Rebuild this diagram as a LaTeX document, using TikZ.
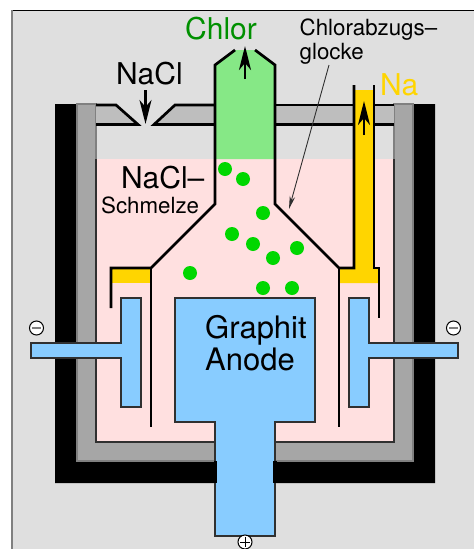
\documentclass[tikz,border=0pt]{standalone}
\usepackage{fontspec}
\setmainfont{TeX Gyre Heros}
\usetikzlibrary{arrows.meta}
\definecolor{bgc}{HTML}{DFDFDF}
\definecolor{wallc}{HTML}{A6A6A6}
\definecolor{lidc}{HTML}{BEBEBE}
\definecolor{meltc}{HTML}{FFE0E0}
\definecolor{gasc}{HTML}{86E886}
\definecolor{sodc}{HTML}{FFD500}
\definecolor{metalc}{HTML}{88CCFF}
\definecolor{dotc}{HTML}{00D700}
\definecolor{chlorc}{HTML}{009000}
\definecolor{edgec}{HTML}{303030}
\tikzset{
  x=1pt,y=-1pt,
  thick line/.style={draw=black,line width=2.7pt,line cap=butt,line join=miter},
  thin edge/.style={draw=edgec,line width=1.1pt},
  bubble/.style={circle,fill=dotc,minimum size=14pt,inner sep=0pt},
  big/.style={inner sep=0pt,anchor=base west,font=\fontsize{30}{30}\selectfont},
  small/.style={inner sep=0pt,anchor=base west,font=\fontsize{22.3}{24}\selectfont},
  flow/.style={draw=black,line width=2.5pt,-{Stealth[length=24pt,width=12pt,inset=7pt]}},
  pole/.style={circle,draw=black,fill=white,line width=1pt,minimum size=14pt,inner sep=0pt},
}
\begin{document}
\begin{tikzpicture}
\useasboundingbox (0,0) rectangle (474,549);
% background
\fill[bgc] (12,10) rectangle (474,549);
\draw[draw=black,line width=1pt] (474,10.5)--(12,10.5);
\draw[draw=gray,line width=1.2pt] (12,10)--(12,549);
% furnace
\fill[black] (55,104)--(77,104)--(77,461)--(413,461)--(413,104)--(435,104)--(435,483)--(55,483)--cycle;
\path[fill=wallc,draw=gray,line width=1.1pt] (77,104)--(96,104)--(96,442)--(394,442)--(394,104)--(413,104)--(413,461)--(77,461)--cycle;
\fill[meltc] (96,159) rectangle (394,442);
\draw[draw=edgec,line width=1.1pt] (96,159)--(96,442)--(394,442)--(394,159);
% lid
\fill[lidc] (96,105)--(116,105)--(138,125)--(96,125)--cycle;
\fill[lidc] (216,105)--(175,105)--(154,125)--(216,125)--cycle;
\fill[lidc] (275,105) rectangle (394,125);
\draw[thick line] (96,105)--(116,105)--(138,124.5)--(96,124.5);
\draw[thick line] (217,105)--(175,105)--(154,124.5)--(217,124.5);
\draw[thick line] (275,105)--(394,105);
\draw[thick line] (275,124.5)--(394,124.5);
% chlorine gas
\fill[gasc] (215,159)--(215,65)--(235,50)--(255,50)--(275,65)--(275,159)--cycle;
% sodium
\fill[sodc] (111,268) rectangle (151,283);
\fill[sodc] (339,283)--(339,268)--(354,268)--(354,90)--(374,90)--(374,268)--(379,268)--(379,283)--cycle;
% anode, with its stem
\path[fill=metalc,thin edge] (175,298)--(315,298)--(315,422)--(275,422)--(275,536)--(215,536)--(215,422)--(175,422)--cycle;
\fill[black] (213.5,461) rectangle (217,483);
\fill[black] (273,461) rectangle (276.5,483);
% cathodes
\path[fill=metalc,thin edge] (121,298)--(141,298)--(141,407)--(121,407)--(121,358)--(31,358)--(31,343)--(121,343)--cycle;
\path[fill=metalc,thin edge] (369,298)--(349,298)--(349,407)--(369,407)--(369,358)--(458,358)--(458,343)--(369,343)--cycle;
% bell
\draw[thick line] (235,50)--(215,65)--(215,204)--(151,268)--(111,268)--(111,308);
\draw[thick line] (151,268)--(151,427);
\draw[thick line] (255,50)--(275,65)--(275,204)--(339,268)--(354,268)--(354,85);
\draw[thick line] (339,268)--(339,427);
\draw[thick line] (374,85)--(374,268)--(379,268)--(379,318);
% bubbles
\node[bubble] (b1) at (225,169) {};
\node[bubble] (b2) at (243,179) {};
\node[bubble] (b3) at (263,213) {};
\node[bubble] (b4) at (232,234) {};
\node[bubble] (b5) at (253,244) {};
\node[bubble] (b6) at (273,258) {};
\node[bubble] (b7) at (297,248) {};
\node[bubble] (b8) at (190,273) {};
\node[bubble] (b9) at (263,288) {};
\node[bubble] (b10) at (292,288) {};
% poles
\node[pole] (pl) at (36.5,328) {};
\draw[draw=gray,line width=1.4pt] (pl.center)+(-4.5,0)--+(4.5,0);
\node[pole] (pr) at (453.5,328) {};
\draw[draw=gray,line width=1.4pt] (pr.center)+(-4.5,0)--+(4.5,0);
\node[pole] (pa) at (245,542) {};
\draw[draw=black,line width=0.8pt] (pa.center)+(-5,0)--+(5,0) (pa.center)+(0,-5)--+(0,5);
% labels
\node[big,text=chlorc] (chlor) at (185,39) {Chlor};
\node[big] (nacl) at (116,84) {NaCl};
\node[big] (melt) at (121,188) {NaCl–};
\node[small] (schm) at (101,213) {Schmelze};
\node[small] (chl1) at (299.5,35) {Chlorabzugs–};
\node[small] (chl2) at (299.5,59) {glocke};
\node[big,text=sodc] (na) at (380,95) {Na};
\node[big,font=\fontsize{31}{31}\selectfont] (gr) at (205,338) {Graphit};
\node[big,font=\fontsize{31}{31}\selectfont] (an) at (205,370) {Anode};
% arrows
\coordinate (a1) at (145.5,90); \coordinate (a2) at (145.5,124);
\coordinate (c1) at (245,79); \coordinate (c2) at (245,46);
\coordinate (n1) at (364,135); \coordinate (n2) at (364,101);
\coordinate (t1) at (329,65); \coordinate (t2) at (289,209);
\draw[flow] (a1)--(a2);
\draw[flow] (c1)--(c2);
\draw[flow] (n1)--(n2);
\draw[draw=edgec,line width=0.9pt,-{Stealth[length=13pt,width=5.5pt]}] (t1)--(t2);
\end{tikzpicture}
\end{document}
